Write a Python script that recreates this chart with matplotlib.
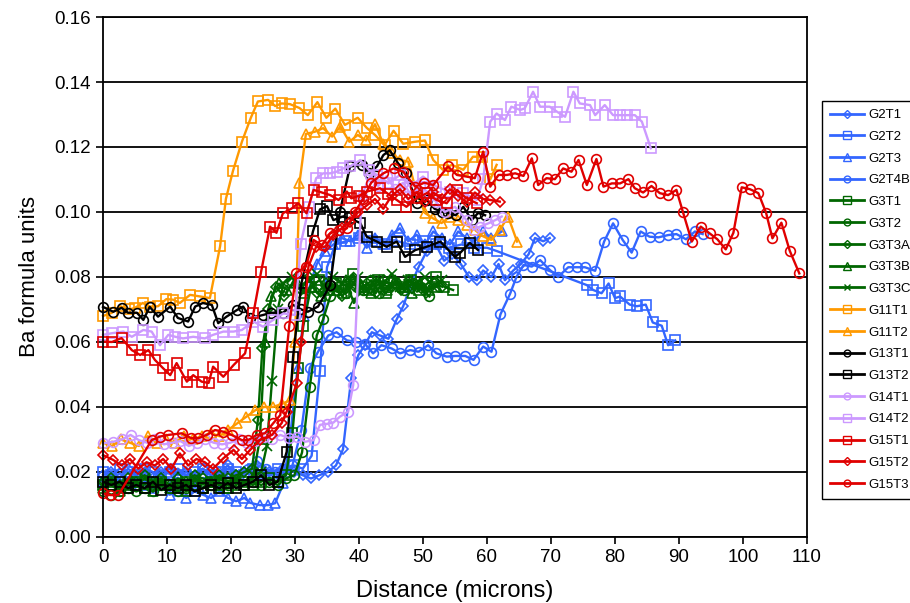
import matplotlib
matplotlib.use('Agg')
import matplotlib.pyplot as plt
from matplotlib.lines import Line2D

plt.rcParams['font.family'] = ['Liberation Sans', 'DejaVu Sans']

# ---- data ----
g2t1_x = [0, 1.3, 2.6, 3.9, 5.2, 6.5, 7.8, 9.1, 10.4, 11.7, 13.0, 14.3, 15.6, 16.9, 18.2, 19.5, 20.8, 22.1, 23.4, 24.7,
          26.0, 27.3, 28.6, 29.9, 31.2, 32.5, 33.8, 35.1, 36.4, 37.5, 38.8, 39.9, 40.9, 42.0, 43.3, 44.6, 45.9, 46.9,
          48.0, 49.3, 50.6, 52.0, 53.3, 54.6, 55.9, 57.2, 58.4, 59.4, 60.7, 61.8, 62.8, 64.1, 65.3, 66.5, 67.5, 68.8, 69.8]
g2t1_y = [0.019, 0.020, 0.018, 0.021, 0.019, 0.020, 0.018, 0.020, 0.021, 0.019, 0.020, 0.018, 0.021, 0.019, 0.020,
          0.022, 0.019, 0.020, 0.021, 0.019, 0.020, 0.019, 0.021, 0.020, 0.019, 0.018, 0.019, 0.020, 0.022, 0.027,
          0.049, 0.056, 0.059, 0.063, 0.062, 0.061, 0.067, 0.071, 0.077, 0.083, 0.088, 0.090, 0.085, 0.087, 0.084,
          0.080, 0.079, 0.082, 0.080, 0.084, 0.079, 0.082, 0.084, 0.087, 0.092, 0.091, 0.092]

g2t2_x = [0, 1.3, 2.6, 3.9, 5.2, 6.5, 7.8, 9.1, 10.4, 11.7, 13.0, 14.3, 15.6, 16.9, 18.2, 19.5, 20.8, 22.1, 23.4, 24.7,
          26.0, 27.3, 28.6, 29.9, 31.2, 32.6, 33.9, 35.0, 36.3, 38.0, 40.0, 42.0, 44.0, 46.0, 48.0, 50.0, 52.0, 54.0,
          56.0, 58.0, 60.0, 61.5, 75.6, 76.6, 77.9, 79.0, 80.0, 80.8, 82.3, 83.4, 84.8, 85.9, 87.3, 88.3, 89.4]
g2t2_y = [0.020, 0.019, 0.021, 0.020, 0.019, 0.021, 0.020, 0.019, 0.020, 0.021, 0.019, 0.020, 0.021, 0.019, 0.020,
          0.021, 0.020, 0.019, 0.021, 0.020, 0.019, 0.021, 0.020, 0.022, 0.021, 0.025, 0.051, 0.083, 0.090, 0.091,
          0.092, 0.091, 0.090, 0.091, 0.090, 0.091, 0.090, 0.089, 0.090, 0.089, 0.089, 0.088, 0.0775, 0.076, 0.075,
          0.078, 0.0735, 0.074, 0.0715, 0.071, 0.0715, 0.066, 0.065, 0.059, 0.0605]

g2t3_x = [0, 1.3, 2.6, 3.9, 5.2, 6.5, 7.8, 9.1, 10.4, 11.7, 13.0, 14.3, 15.6, 16.9, 18.2, 19.5, 20.8, 22.1, 23.0, 24.5,
          25.8, 26.9, 28.2, 29.3, 30.4, 31.4, 32.4, 33.4, 34.7, 36.0, 37.3, 38.6, 39.9, 41.2, 42.5, 43.8, 45.1, 46.4,
          47.7, 49.0, 50.3, 51.6, 52.9, 54.2, 55.5, 56.8, 58.1, 59.4, 60.7, 62.3]
g2t3_y = [0.017, 0.018, 0.016, 0.017, 0.018, 0.016, 0.015, 0.016, 0.013, 0.014, 0.012, 0.014, 0.013, 0.012, 0.014,
          0.012, 0.011, 0.012, 0.0105, 0.0098, 0.0098, 0.0104, 0.0165, 0.032, 0.052, 0.068, 0.078, 0.084, 0.088,
          0.090, 0.092, 0.091, 0.093, 0.089, 0.092, 0.090, 0.093, 0.095, 0.091, 0.093, 0.090, 0.094, 0.092, 0.090,
          0.094, 0.092, 0.091, 0.094, 0.092, 0.094]

g2t4b_x = [0, 1.4, 2.9, 4.3, 5.8, 7.2, 8.6, 10.0, 11.4, 12.8, 14.2, 15.6, 17.0, 18.4, 19.8, 21.2, 22.6, 24.0, 25.4,
           26.8, 28.2, 29.6, 31.0, 32.3, 33.6, 35.2, 36.5, 38.1, 39.6, 40.9, 42.2, 43.5, 45.1, 46.4, 48.0, 49.3, 50.8,
           52.1, 53.7, 55.0, 56.6, 57.9, 59.4, 60.7, 62.1, 63.6, 64.6, 65.7, 67.0, 68.3, 69.8, 71.1, 72.7, 74.0, 75.3,
           76.9, 78.3, 79.7, 81.2, 82.6, 84.0, 85.4, 86.8, 88.3, 89.6, 91.1, 92.5, 93.7]
g2t4b_y = [0.017, 0.018, 0.0175, 0.016, 0.018, 0.017, 0.019, 0.018, 0.017, 0.016, 0.018, 0.017, 0.019, 0.018, 0.020,
           0.019, 0.021, 0.0235, 0.021, 0.020, 0.021, 0.022, 0.033, 0.052, 0.057, 0.062, 0.063, 0.0605, 0.060, 0.0595,
           0.0565, 0.059, 0.058, 0.0565, 0.0575, 0.057, 0.059, 0.0565, 0.0555, 0.0557, 0.0557, 0.0545, 0.0586, 0.057,
           0.0685, 0.0748, 0.080, 0.0837, 0.0832, 0.0852, 0.0822, 0.080, 0.083, 0.083, 0.083, 0.0819, 0.0909, 0.0965,
           0.0914, 0.0875, 0.094, 0.0924, 0.0922, 0.0929, 0.0932, 0.0916, 0.094, 0.0932]

g3t1_x = [0, 1.3, 2.6, 3.9, 5.2, 6.5, 7.8, 9.1, 10.4, 11.7, 13.0, 14.3, 15.6, 16.9, 18.2, 19.5, 20.8, 22.1, 23.4, 24.7,
          26.0, 27.3, 28.6, 29.6, 30.5, 31.3, 32.5, 33.8, 35.1, 36.4, 37.7, 39.0, 40.3, 41.6, 42.9, 44.2, 45.5, 46.8,
          48.1, 49.4, 50.7, 52.0, 53.3, 54.7]
g3t1_y = [0.016, 0.017, 0.015, 0.016, 0.017, 0.015, 0.016, 0.017, 0.016, 0.015, 0.017, 0.016, 0.015, 0.017, 0.016,
          0.015, 0.016, 0.017, 0.016, 0.017, 0.018, 0.017, 0.019, 0.032, 0.052, 0.065, 0.077, 0.079, 0.076, 0.078,
          0.075, 0.081, 0.077, 0.076, 0.079, 0.075, 0.078, 0.077, 0.079, 0.076, 0.078, 0.080, 0.077, 0.076]

g3t2_x = [0, 1.3, 2.6, 3.9, 5.2, 6.5, 7.8, 9.1, 10.4, 11.7, 13.0, 14.3, 15.6, 16.9, 18.2, 19.5, 20.8, 22.1, 23.4, 24.7,
          26.0, 27.3, 28.6, 29.9, 31.1, 32.3, 33.4, 34.4, 35.5, 36.7, 38.0, 39.3, 40.6, 41.9, 43.2, 44.5, 45.8, 47.1,
          48.4, 49.7, 51.0]
g3t2_y = [0.014, 0.013, 0.014, 0.015, 0.014, 0.015, 0.014, 0.016, 0.015, 0.014, 0.015, 0.016, 0.015, 0.016, 0.015,
          0.016, 0.017, 0.016, 0.017, 0.016, 0.017, 0.016, 0.018, 0.019, 0.026, 0.046, 0.062, 0.067, 0.074, 0.077,
          0.075, 0.078, 0.076, 0.079, 0.075, 0.077, 0.078, 0.076, 0.078, 0.077, 0.074]

g3t3a_x = [0, 1.3, 2.6, 3.9, 5.2, 6.5, 7.8, 9.1, 10.4, 11.7, 13.0, 14.3, 15.6, 16.9, 18.2, 19.5, 20.8, 22.1, 23.3, 24.2,
           24.9, 25.8, 27.0, 28.3, 29.6, 30.9, 32.2, 33.5, 34.8, 36.1, 37.4, 38.7, 40.0, 41.3, 42.6, 43.9, 45.2, 46.5,
           47.8, 49.1, 50.4, 51.7, 53.0]
g3t3a_y = [0.017, 0.018, 0.016, 0.018, 0.017, 0.019, 0.017, 0.018, 0.016, 0.018, 0.017, 0.019, 0.018, 0.017, 0.019,
           0.018, 0.019, 0.020, 0.021, 0.036, 0.058, 0.070, 0.077, 0.074, 0.078, 0.076, 0.080, 0.075, 0.078, 0.077,
           0.074, 0.079, 0.076, 0.078, 0.075, 0.079, 0.077, 0.076, 0.079, 0.077, 0.075, 0.078, 0.077]

g3t3b_x = [0, 1.3, 2.6, 3.9, 5.2, 6.5, 7.8, 9.1, 10.4, 11.7, 13.0, 14.3, 15.6, 16.9, 18.2, 19.5, 20.8, 22.1, 23.4, 24.5,
           25.3, 26.3, 27.5, 28.8, 30.1, 31.4, 32.7, 34.0, 35.3, 36.6, 37.9, 39.2, 40.5, 41.8, 43.1, 44.4, 45.7, 47.0,
           48.3, 49.6, 50.9, 52.2]
g3t3b_y = [0.015, 0.016, 0.014, 0.015, 0.016, 0.015, 0.014, 0.016, 0.015, 0.016, 0.014, 0.016, 0.015, 0.017, 0.016,
           0.015, 0.017, 0.016, 0.018, 0.030, 0.060, 0.074, 0.078, 0.076, 0.079, 0.075, 0.077, 0.074, 0.078, 0.076,
           0.079, 0.072, 0.077, 0.075, 0.078, 0.076, 0.079, 0.077, 0.075, 0.078, 0.076, 0.077]

g3t3c_x = [0, 1.3, 2.6, 3.9, 5.2, 6.5, 7.8, 9.1, 10.4, 11.7, 13.0, 14.3, 15.6, 16.9, 18.2, 19.5, 20.8, 22.1, 23.4, 24.7,
           25.6, 26.4, 27.3, 28.2, 29.5, 30.8, 32.1, 33.4, 34.7, 36.0, 37.3, 38.6, 39.9, 41.2, 42.5, 43.8, 45.1, 46.4,
           47.7, 49.0, 50.3, 51.6, 52.9]
g3t3c_y = [0.016, 0.017, 0.015, 0.017, 0.016, 0.018, 0.016, 0.017, 0.015, 0.017, 0.016, 0.018, 0.017, 0.016, 0.018,
           0.017, 0.018, 0.017, 0.019, 0.020, 0.028, 0.048, 0.070, 0.078, 0.080, 0.077, 0.079, 0.081, 0.076, 0.080,
           0.078, 0.077, 0.080, 0.076, 0.079, 0.078, 0.081, 0.077, 0.079, 0.078, 0.080, 0.077, 0.079]

g11t1_x = [0, 1.4, 2.7, 4.1, 5.0, 6.2, 7.3, 8.6, 9.9, 11.0, 12.0, 13.6, 15.2, 16.7, 18.3, 19.2, 20.3, 21.7, 23.1, 24.2,
           25.8, 26.9, 27.9, 29.2, 30.7, 32.0, 33.5, 34.9, 36.3, 37.8, 39.8, 41.2, 42.5, 44.0, 45.4, 46.9, 48.7, 50.3,
           51.6, 53.1, 54.5, 56.3, 57.8, 59.2, 60.5, 61.5]
g11t1_y = [0.068, 0.069, 0.071, 0.070, 0.0705, 0.072, 0.0709, 0.071, 0.0732, 0.073, 0.072, 0.0745, 0.074, 0.0735,
           0.0895, 0.104, 0.1126, 0.1216, 0.129, 0.134, 0.1345, 0.1326, 0.1334, 0.1332, 0.132, 0.1298, 0.1338, 0.129,
           0.1318, 0.1268, 0.129, 0.1259, 0.1237, 0.1206, 0.125, 0.121, 0.1216, 0.122, 0.116, 0.113, 0.1145, 0.113,
           0.117, 0.117, 0.110, 0.1145]

g11t2_x = [0, 1.4, 2.8, 4.2, 5.6, 7.0, 8.4, 9.8, 11.2, 12.6, 14.0, 15.4, 16.8, 18.2, 19.6, 21.0, 22.4, 23.8, 25.2, 26.6,
           28.0, 29.2, 30.0, 30.7, 31.7, 33.1, 34.4, 35.8, 37.1, 38.5, 39.8, 41.1, 42.5, 43.8, 45.1, 46.4, 47.7, 49.0,
           50.3, 51.6, 52.9, 54.2, 55.5, 56.8, 58.1, 59.4, 60.7, 62.0, 63.3, 64.7]
g11t2_y = [0.029, 0.028, 0.030, 0.029, 0.028, 0.031, 0.029, 0.030, 0.029, 0.031, 0.030, 0.031, 0.032, 0.031, 0.033,
           0.035, 0.037, 0.039, 0.040, 0.040, 0.041, 0.042, 0.060, 0.109, 0.124, 0.1247, 0.1258, 0.1232, 0.1263,
           0.1216, 0.1237, 0.122, 0.127, 0.121, 0.118, 0.116, 0.1155, 0.106, 0.0997, 0.098, 0.0966, 0.0985, 0.0975,
           0.096, 0.0945, 0.0925, 0.0914, 0.0945, 0.0986, 0.0909]

g13t1_x = [0, 1.6, 2.9, 3.9, 5.3, 6.3, 7.3, 8.6, 10.5, 11.7, 13.3, 14.4, 15.6, 17.0, 18.0, 19.3, 20.9, 21.9, 23.0, 25.0,
           26.3, 28.1, 29.7, 31.0, 32.0, 33.6, 35.5, 37.0, 38.6, 40.4, 41.6, 42.8, 43.8, 44.8, 46.1, 47.4, 49.0, 50.6,
           51.8, 52.9, 53.9, 55.1, 56.3, 57.6, 58.6, 59.7]
g13t1_y = [0.0708, 0.0693, 0.0705, 0.069, 0.069, 0.0668, 0.0708, 0.0678, 0.0709, 0.0674, 0.0663, 0.0709, 0.072,
           0.0714, 0.0658, 0.0678, 0.0698, 0.0709, 0.0674, 0.0683, 0.069, 0.069, 0.0714, 0.070, 0.0693, 0.0709,
           0.0775, 0.100, 0.114, 0.1145, 0.112, 0.114, 0.1175, 0.119, 0.115, 0.112, 0.1027, 0.1037, 0.101, 0.1001,
           0.0997, 0.099, 0.1016, 0.0975, 0.0997, 0.099]

g13t2_x = [0, 1.3, 2.6, 3.9, 5.2, 6.5, 7.8, 9.1, 10.4, 11.7, 13.0, 14.3, 15.6, 16.9, 18.2, 19.5, 20.8, 22.1, 23.4, 24.7,
           26.0, 27.3, 28.7, 29.7, 31.0, 32.8, 33.9, 35.0, 36.0, 37.4, 38.6, 40.2, 41.2, 42.8, 44.3, 45.9, 47.2, 48.8,
           50.6, 52.7, 55.0, 55.8, 57.3, 58.6]
g13t2_y = [0.017, 0.016, 0.017, 0.015, 0.016, 0.015, 0.017, 0.0145, 0.016, 0.015, 0.016, 0.014, 0.015, 0.016, 0.015,
           0.0166, 0.015, 0.016, 0.017, 0.019, 0.016, 0.017, 0.0262, 0.0555, 0.078, 0.094, 0.1008, 0.1018, 0.0975,
           0.0986, 0.098, 0.0966, 0.0924, 0.0909, 0.0893, 0.0909, 0.0862, 0.0883, 0.0893, 0.0909, 0.0862, 0.0874,
           0.0905, 0.0883]

g14t1_x = [0, 1.6, 3.0, 4.3, 5.6, 6.9, 8.2, 9.5, 10.8, 12.1, 13.4, 14.7, 16.0, 17.3, 18.6, 19.9, 21.2, 22.5, 23.8,
           25.1, 26.4, 27.7, 29.0, 30.3, 31.6, 32.9, 33.9, 35.0, 36.0, 37.0, 38.3, 39.1, 40.4, 41.7, 43.0, 44.3, 45.6,
           46.9, 48.2, 49.5, 50.8, 52.1, 53.4, 55.0, 56.8, 57.9, 58.9, 60.2, 61.3, 62.3]
g14t1_y = [0.0288, 0.0293, 0.030, 0.0314, 0.0298, 0.029, 0.030, 0.0285, 0.029, 0.0295, 0.028, 0.029, 0.030, 0.029,
           0.0285, 0.029, 0.030, 0.029, 0.0295, 0.0309, 0.030, 0.0314, 0.0305, 0.0309, 0.0293, 0.0298, 0.0345, 0.0348,
           0.0352, 0.037, 0.0386, 0.0468, 0.105, 0.111, 0.108, 0.111, 0.107, 0.109, 0.105, 0.108, 0.106, 0.103, 0.100,
           0.1016, 0.0975, 0.0945, 0.0955, 0.0965, 0.0975, 0.0986]

g14t2_x = [0, 1.4, 3.2, 4.5, 6.3, 7.6, 8.9, 10.2, 11.3, 12.5, 14.1, 15.9, 17.2, 18.8, 20.4, 21.7, 23.5, 25.0, 26.6,
           28.2, 30.0, 30.9, 32.2, 33.3, 34.4, 35.5, 36.5, 37.5, 38.6, 40.2, 41.5, 42.8, 44.6, 46.4, 48.0, 50.0, 52.1,
           54.2, 56.3, 58.4, 59.4, 60.5, 61.5, 62.8, 63.8, 65.2, 65.9, 67.2, 68.3, 69.8, 70.9, 72.2, 73.5, 74.5, 76.1,
           76.9, 78.4, 79.7, 80.8, 81.8, 83.1, 84.2, 85.6]
g14t2_y = [0.0622, 0.0627, 0.0632, 0.0616, 0.0637, 0.0632, 0.059, 0.0622, 0.0616, 0.0611, 0.0616, 0.0611, 0.0622,
           0.0632, 0.0632, 0.0637, 0.0663, 0.0647, 0.0668, 0.0688, 0.0683, 0.0903, 0.1016, 0.1104, 0.1119, 0.1119,
           0.1124, 0.1134, 0.114, 0.116, 0.113, 0.1114, 0.1088, 0.1114, 0.1078, 0.1109, 0.1078, 0.1063, 0.1058, 0.1037,
           0.110, 0.1278, 0.1303, 0.1283, 0.1324, 0.1314, 0.1319, 0.137, 0.1324, 0.1324, 0.1309, 0.1293, 0.137, 0.1334,
           0.1329, 0.1298, 0.1329, 0.1298, 0.1298, 0.1298, 0.1298, 0.1278, 0.1196]

g15t1_x = [0, 1.4, 2.9, 4.5, 5.8, 7.1, 8.1, 9.4, 10.5, 11.5, 13.1, 14.1, 15.4, 16.5, 17.2, 18.8, 20.4, 22.2, 23.5, 24.7,
           26.1, 27.1, 28.1, 29.5, 30.5, 31.8, 32.9, 34.2, 35.5, 36.8, 38.1, 38.8, 40.0, 41.2, 43.3, 44.6, 45.9, 47.4,
           49.0, 50.6, 52.1, 53.7, 55.3, 56.8, 58.4]
g15t1_y = [0.0601, 0.060, 0.0612, 0.0575, 0.056, 0.0575, 0.0545, 0.0519, 0.0498, 0.0535, 0.0478, 0.0498, 0.0478,
           0.0474, 0.0524, 0.0493, 0.0529, 0.0565, 0.0688, 0.0816, 0.0955, 0.0936, 0.0996, 0.1011, 0.1027, 0.0996,
           0.1068, 0.106, 0.1052, 0.1037, 0.1063, 0.1042, 0.105, 0.1063, 0.1073, 0.1055, 0.1037, 0.1016, 0.1042,
           0.1058, 0.1037, 0.1027, 0.1068, 0.1042, 0.1027]

g15t2_x = [0, 1.6, 2.9, 4.2, 5.5, 6.8, 8.1, 9.4, 10.7, 12.0, 13.3, 14.6, 15.9, 17.2, 18.8, 20.4, 21.7, 23.0, 24.5, 26.4,
           27.9, 28.7, 30.3, 31.0, 32.1, 33.3, 34.7, 36.0, 37.3, 38.6, 39.9, 41.2, 42.5, 43.8, 45.1, 46.4, 47.7, 49.0,
           50.3, 51.6, 52.9, 54.2, 55.5, 56.8, 58.1, 59.4, 60.5, 62.0]
g15t2_y = [0.0252, 0.0237, 0.022, 0.024, 0.021, 0.023, 0.022, 0.024, 0.021, 0.0257, 0.022, 0.024, 0.023, 0.021,
           0.0242, 0.0268, 0.024, 0.0268, 0.0298, 0.0314, 0.035, 0.0386, 0.0473, 0.060, 0.0832, 0.0893, 0.0893, 0.093,
           0.095, 0.097, 0.1, 0.102, 0.104, 0.101, 0.105, 0.107, 0.104, 0.106, 0.103, 0.106, 0.104, 0.107, 0.105,
           0.103, 0.106, 0.104, 0.1037, 0.1032]

g15t3_x = [0, 1.1, 2.4, 7.6, 8.9, 10.2, 12.3, 13.8, 14.9, 16.2, 17.5, 18.8, 20.1, 21.7, 22.7, 24.0, 25.3, 26.6, 27.7,
           29.1, 30.2, 31.7, 32.9, 34.2, 35.5, 36.8, 38.1, 39.4, 40.6, 41.9, 43.8, 45.4, 46.9, 48.8, 50.2, 51.6, 53.9,
           55.3, 56.8, 58.1, 59.4, 60.5, 61.8, 63.1, 64.4, 65.7, 67.0, 68.0, 69.3, 70.6, 71.9, 73.2, 74.3, 75.6, 77.1,
           78.2, 79.5, 80.8, 82.1, 83.1, 84.4, 85.7, 87.0, 88.3, 89.6, 90.6, 92.0, 93.4, 94.8, 96.0, 97.3, 98.5, 99.8,
           101.1, 102.4, 103.6, 104.6, 106.0, 107.3, 108.8]
g15t3_y = [0.0134, 0.0129, 0.0129, 0.0298, 0.0309, 0.0314, 0.0319, 0.0304, 0.0304, 0.0314, 0.0329, 0.0324, 0.0314,
           0.0298, 0.0298, 0.0314, 0.0319, 0.035, 0.0375, 0.065, 0.0813, 0.0832, 0.0914, 0.0898, 0.0934, 0.0945, 0.095,
           0.100, 0.104, 0.109, 0.1119, 0.1134, 0.1124, 0.1078, 0.109, 0.1083, 0.114, 0.1114, 0.1109, 0.1104, 0.1186,
           0.1078, 0.1114, 0.1114, 0.1119, 0.1111, 0.1165, 0.1083, 0.1104, 0.1101, 0.1134, 0.1124, 0.116, 0.1083,
           0.1163, 0.1078, 0.1088, 0.1088, 0.1101, 0.1073, 0.106, 0.108, 0.1058, 0.1052, 0.1068, 0.1001, 0.0909,
           0.0955, 0.0934, 0.0916, 0.0885, 0.0936, 0.1076, 0.107, 0.1058, 0.0998, 0.0919, 0.0967, 0.0881, 0.0811]

BLUE = '#3366FF'
GREEN = '#006600'
ORANGE = '#FF9900'
BLACK = '#000000'
PURPLE = '#CC99FF'
RED = '#E00000'

series = [
    ('G2T1', g2t1_x, g2t1_y, BLUE, 'D'),
    ('G2T2', g2t2_x, g2t2_y, BLUE, 's'),
    ('G2T3', g2t3_x, g2t3_y, BLUE, '^'),
    ('G2T4B', g2t4b_x, g2t4b_y, BLUE, 'o'),
    ('G3T1', g3t1_x, g3t1_y, GREEN, 's'),
    ('G3T2', g3t2_x, g3t2_y, GREEN, 'o'),
    ('G3T3A', g3t3a_x, g3t3a_y, GREEN, 'D'),
    ('G3T3B', g3t3b_x, g3t3b_y, GREEN, '^'),
    ('G3T3C', g3t3c_x, g3t3c_y, GREEN, 'x'),
    ('G11T1', g11t1_x, g11t1_y, ORANGE, 's'),
    ('G11T2', g11t2_x, g11t2_y, ORANGE, '^'),
    ('G13T1', g13t1_x, g13t1_y, BLACK, 'o'),
    ('G13T2', g13t2_x, g13t2_y, BLACK, 's'),
    ('G14T1', g14t1_x, g14t1_y, PURPLE, 'o'),
    ('G14T2', g14t2_x, g14t2_y, PURPLE, 's'),
    ('G15T1', g15t1_x, g15t1_y, RED, 's'),
    ('G15T2', g15t2_x, g15t2_y, RED, 'D'),
    ('G15T3', g15t3_x, g15t3_y, RED, 'o'),
]

marker_size = {'s': 7.5, 'o': 7, '^': 7.5, 'D': 5.5, 'x': 7}

fig = plt.figure(figsize=(9.1, 6.03), dpi=100)
ax = fig.add_axes([0.1132, 0.1095, 0.7736, 0.8623])

handles = []
for name, xs, ys, color, mk in series:
    ax.plot(xs, ys, color=color, lw=1.7, marker=mk, markersize=marker_size[mk],
            markerfacecolor='none', markeredgecolor=color, markeredgewidth=1.2, clip_on=False)
    handles.append(Line2D([], [], color=color, lw=2, marker=mk, markersize=marker_size[mk] * 0.7,
                          markerfacecolor='none', markeredgecolor=color, markeredgewidth=1.0))

ax.set_xlim(0, 110)
ax.set_ylim(0, 0.16)
ax.set_xticks(range(0, 111, 10))
ax.set_yticks([0.0, 0.02, 0.04, 0.06, 0.08, 0.10, 0.12, 0.14, 0.16])
ax.set_yticklabels(['0.00', '0.02', '0.04', '0.06', '0.08', '0.10', '0.12', '0.14', '0.16'])
ax.yaxis.grid(True, color='black', lw=1.3)
ax.set_axisbelow(True)
ax.tick_params(labelsize=13.5, length=5, width=1.2, direction='out', pad=4)
for sp in ax.spines.values():
    sp.set_linewidth(1.3)
ax.set_xlabel('Distance (microns)', fontsize=17, labelpad=10)
ax.set_ylabel('Ba formula units', fontsize=16, labelpad=10)

fig.legend(handles, [s[0] for s in series], loc='upper left', bbox_to_anchor=(0.903, 0.8325),
           fontsize=9.5, frameon=True, fancybox=False, edgecolor='black', framealpha=1,
           handlelength=2.6, handletextpad=0.3, labelspacing=0.72, borderpad=0.6, borderaxespad=0)

fig.savefig('out.png', dpi=100)
